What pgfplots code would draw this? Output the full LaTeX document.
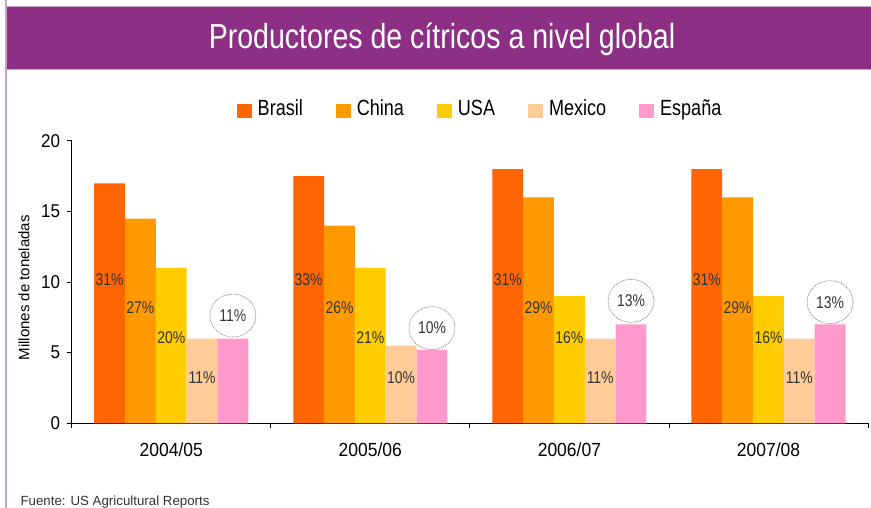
\documentclass[border=0pt]{standalone}
\usepackage{fontspec}
\setmainfont{Liberation Sans}
\newfontfamily\narrow[FakeStretch=0.82]{Liberation Sans}
\newfontfamily\semi[FakeStretch=0.92]{Liberation Sans}
\usepackage{pgfplots}
\pgfplotsset{compat=1.18}
\usetikzlibrary{shapes.geometric}
\definecolor{cBrasil}{HTML}{FF6600}
\definecolor{cChina}{HTML}{FF9900}
\definecolor{cUSA}{HTML}{FFCC00}
\definecolor{cMexico}{HTML}{FFCC99}
\definecolor{cEspana}{HTML}{FF99CC}
\definecolor{titlepurple}{RGB}{141,48,133}
\definecolor{lightpurple}{RGB}{205,160,200}
\definecolor{labelgray}{HTML}{333333}
\pgfplotsset{
  mybar/.style={ybar, bar width=0.1548, draw=none, fill=#1,
    legend image code/.code={\fill[##1,draw=none] (0bp,-9bp) rectangle (15bp,5.6bp);
      \path (0bp,0bp) -- (19bp,0bp);}},
  pctlabel/.style={forget plot, draw=none, mark=none, nodes near coords,
    point meta=explicit symbolic,
    every node near coord/.append style={anchor=center, inner sep=0pt,
      font=\narrow\fontsize{17bp}{19bp}\selectfont, text=labelgray}},
}
\begin{document}
\begin{tikzpicture}
\useasboundingbox (0,0) rectangle (871bp,508bp);
% title band
\fill[titlepurple] (7bp,439bp) rectangle (871bp,501bp);
\draw[lightpurple, line width=1.2bp] (6bp,508bp) -- (6bp,0bp);
\draw[lightpurple, line width=1bp] (6bp,501.5bp) -- (871bp,501.5bp);
\draw[lightpurple, line width=1bp] (6bp,438.5bp) -- (871bp,438.5bp);
\node[text=white, font=\narrow\fontsize{34.8bp}{38bp}\selectfont] at (442bp,468.5bp) {Productores de cítricos a nivel global};
\node[anchor=base west, font=\fontsize{13.3bp}{15bp}\selectfont, text=black!80] at (17bp,3bp) {Fuente: US Agricultural Reports};
\begin{axis}[
  at={(71.7bp,84.7bp)}, anchor=south west,
  scale only axis, width=796.3bp, height=282.4bp,
  xmin=-0.5, xmax=3.5, ymin=0, ymax=20,
  axis x line*=bottom, axis y line*=left,
  axis line style={black, line width=0.8bp},
  tick align=outside, major tick length=5bp, minor tick length=5bp,
  tick style={black, line width=0.8bp},
  xtick={0,1,2,3}, xticklabels={2004/05,2005/06,2006/07,2007/08},
  minor xtick={-0.5,0.5,1.5,2.5,3.5},
  major x tick style={draw=none},
  ytick={0,5,10,15,20},
  /pgf/number format/assume math mode=true,
  xticklabel style={font=\semi\fontsize{19bp}{21bp}\selectfont, yshift=-11bp},
  yticklabel style={font=\semi\fontsize{18.5bp}{20bp}\selectfont, xshift=-3bp},
  ylabel={Millones de toneladas},
  every axis y label/.style={at={(axis description cs:-0.06,0.48)}, rotate=90, anchor=center,
    font=\fontsize{15bp}{17bp}\selectfont},
  legend style={draw=none, fill=none, at={(0.5128,1.112)}, anchor=center,
    font=\narrow\fontsize{22bp}{24bp}\selectfont,
    nodes={text height=16bp, text depth=4.5bp},
    /tikz/every even column/.append style={column sep=31bp}},
  legend columns=5, legend cell align=left,
]
\addplot[mybar=cBrasil, bar shift=-0.3096] coordinates {(0,17) (1,17.5) (2,18) (3,18)};
\addplot[mybar=cChina, bar shift=-0.1548] coordinates {(0,14.5) (1,14) (2,16) (3,16)};
\addplot[mybar=cUSA, bar shift=0] coordinates {(0,11) (1,11) (2,9) (3,9)};
\addplot[mybar=cMexico, bar shift=0.1548] coordinates {(0,6) (1,5.5) (2,6) (3,6)};
\addplot[mybar=cEspana, bar shift=0.3096] coordinates {(0,6) (1,5.2) (2,7) (3,7)};
\legend{Brasil,China,USA,Mexico,España}
% percentage labels
\addplot[pctlabel] coordinates {(-0.3096,10.2) [31\%] (0.6904,10.2) [33\%] (1.6904,10.2) [31\%] (2.6904,10.2) [31\%]};
\addplot[pctlabel] coordinates {(-0.1548,8.2) [27\%] (0.8452,8.2) [26\%] (1.8452,8.2) [29\%] (2.8452,8.2) [29\%]};
\addplot[pctlabel] coordinates {(0,6.05) [20\%] (1,6.05) [21\%] (2,6.05) [16\%] (3,6.05) [16\%]};
\addplot[pctlabel] coordinates {(0.1548,3.25) [11\%] (1.1548,3.25) [10\%] (2.1548,3.25) [11\%] (3.1548,3.25) [11\%]};
\addplot[pctlabel, every node near coord/.append style={draw=gray, ellipse, line width=0.6bp,
    dash pattern=on 1.2bp off 0.8bp, minimum width=46bp, minimum height=43bp}]
  coordinates {(0.3096,7.63) [11\%] (1.3096,6.74) [10\%] (2.3096,8.67) [13\%] (3.3096,8.58) [13\%]};
\end{axis}
\end{tikzpicture}
\end{document}
